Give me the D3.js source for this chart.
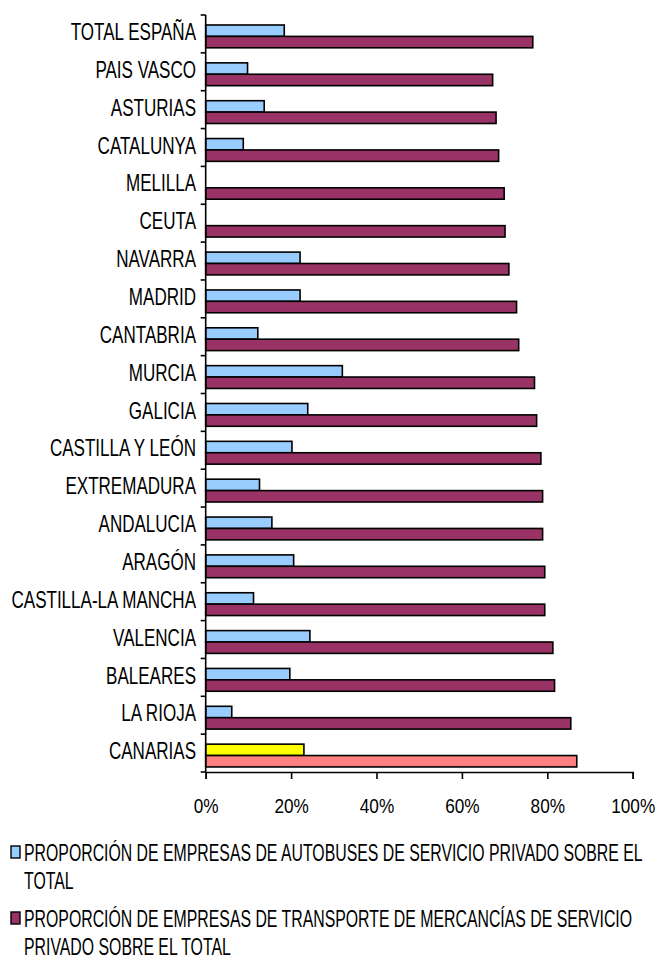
<!DOCTYPE html>
<html>
<head>
<meta charset="utf-8">
<script src="https://cdn.jsdelivr.net/npm/d3@7"></script>
<style>
  html, body { margin: 0; padding: 0; background: #fff; }
  svg { display: block; }
  text { font-family: "Liberation Sans", Arial, sans-serif; fill: #000; }
</style>
</head>
<body>
<svg id="chart" width="658" height="965"></svg>
<script>
// Regions, top to bottom
const categories = ["TOTAL ESPAÑA", "PAIS VASCO", "ASTURIAS", "CATALUNYA", "MELILLA", "CEUTA",
  "NAVARRA", "MADRID", "CANTABRIA", "MURCIA", "GALICIA", "CASTILLA Y LEÓN", "EXTREMADURA",
  "ANDALUCIA", "ARAGÓN", "CASTILLA-LA MANCHA", "VALENCIA", "BALEARES", "LA RIOJA", "CANARIAS"];

// Share (%) of private-service bus companies over the total (no figure for Melilla / Ceuta)
const busShare = [18.4, 9.8, 13.7, 8.8, null, null, 22.1, 22.1, 12.2, 32.0, 23.9, 20.2, 12.6,
  15.5, 20.6, 11.2, 24.4, 19.7, 6.1, 23.0];

// Share (%) of private-service freight transport companies over the total
const freightShare = [76.6, 67.2, 68.0, 68.6, 69.9, 70.1, 71.0, 72.8, 73.3, 77.0, 77.5, 78.5,
  78.9, 78.9, 79.4, 79.4, 81.3, 81.7, 85.5, 86.9];

const xTicks = [0, 20, 40, 60, 80, 100];
const legendLabels = [
  ["PROPORCIÓN DE EMPRESAS DE AUTOBUSES DE SERVICIO PRIVADO SOBRE EL", "TOTAL"],
  ["PROPORCIÓN DE EMPRESAS DE TRANSPORTE DE MERCANCÍAS DE SERVICIO", "PRIVADO SOBRE EL TOTAL"]
];

const colors = { bus: "#99CCFF", freight: "#993366", busHi: "#FFFF00", freightHi: "#FF8080" };
const highlighted = "CANARIAS";

// Tall, condensed lettering
const labelFont = 24, labelSqueeze = 0.71, legendSqueeze = 0.66;
const tickFont = 21, tickSqueeze = 0.82;

const svg = d3.select("#chart");
const plot = { left: 205.7, right: 632.7, top: 15, bottom: 772 };

const x = d3.scaleLinear().domain([0, 100]).range([plot.left, plot.right]);
const y = d3.scaleBand().domain(categories).range([plot.top, plot.bottom]).padding(0);

const barH = 11.4;
const groupOffset = 10;

const rows = categories.map((c, i) => ({ name: c, bus: busShare[i], freight: freightShare[i] }));

// Bars
const g = svg.append("g");
g.selectAll("rect.bus")
  .data(rows.filter(d => d.bus != null))
  .join("rect")
  .attr("class", "bus")
  .attr("x", x(0))
  .attr("y", d => y(d.name) + groupOffset)
  .attr("width", d => x(d.bus) - x(0))
  .attr("height", barH)
  .attr("fill", d => d.name === highlighted ? colors.busHi : colors.bus)
  .attr("stroke", "#000")
  .attr("stroke-width", 1.6);

g.selectAll("rect.freight")
  .data(rows)
  .join("rect")
  .attr("class", "freight")
  .attr("x", x(0))
  .attr("y", d => y(d.name) + groupOffset + barH)
  .attr("width", d => x(d.freight) - x(0))
  .attr("height", barH)
  .attr("fill", d => d.name === highlighted ? colors.freightHi : colors.freight)
  .attr("stroke", "#000")
  .attr("stroke-width", 1.6);

// Category axis: vertical line with ticks between bands
const yAxis = svg.append("g");
yAxis.append("line")
  .attr("x1", plot.left).attr("x2", plot.left)
  .attr("y1", plot.top).attr("y2", plot.bottom)
  .attr("stroke", "#000").attr("stroke-width", 1.6);
yAxis.selectAll("line.tick")
  .data(d3.range(categories.length + 1))
  .join("line")
  .attr("class", "tick")
  .attr("x1", plot.left - 5).attr("x2", plot.left)
  .attr("y1", i => plot.top + i * y.step())
  .attr("y2", i => plot.top + i * y.step())
  .attr("stroke", "#000").attr("stroke-width", 1.6);
yAxis.selectAll("g.label")
  .data(categories)
  .join("g")
  .attr("class", "label")
  .attr("transform", d => `translate(196,${y(d) + y.bandwidth() / 2 - 2.5}) scale(${labelSqueeze},1)`)
  .append("text")
  .attr("dy", "0.36em")
  .attr("text-anchor", "end")
  .attr("font-size", labelFont)
  .text(d => d);

// Value axis along the bottom
const xAxis = d3.axisBottom(x)
  .tickValues(xTicks)
  .tickSize(7)
  .tickPadding(19)
  .tickFormat(d => d + "%");
const xg = svg.append("g")
  .attr("transform", `translate(0,${plot.bottom})`)
  .call(xAxis);
xg.select(".domain").attr("stroke", "#000").attr("stroke-width", 1.6);
xg.selectAll(".tick line").attr("stroke", "#000").attr("stroke-width", 1.6);
xg.selectAll(".tick text")
  .attr("font-size", tickFont)
  .attr("fill", "#000")
  .attr("transform", `scale(${tickSqueeze},1)`)
  .style("font-family", "'Liberation Sans', Arial, sans-serif");

// Legend
const legend = svg.append("g");
const legendY = [852, 918];
const legendFill = [colors.bus, colors.freight];
legendLabels.forEach((lines, i) => {
  legend.append("rect")
    .attr("x", 11).attr("y", legendY[i] - 6)
    .attr("width", 9).attr("height", 12)
    .attr("fill", legendFill[i])
    .attr("stroke", "#000").attr("stroke-width", 1.4);
  lines.forEach((t, j) => {
    legend.append("g")
      .attr("transform", `translate(24,${legendY[i] + j * 28}) scale(${legendSqueeze},1)`)
      .append("text")
      .attr("dy", "0.36em")
      .attr("font-size", labelFont)
      .text(t);
  });
});
</script>
</body>
</html>
